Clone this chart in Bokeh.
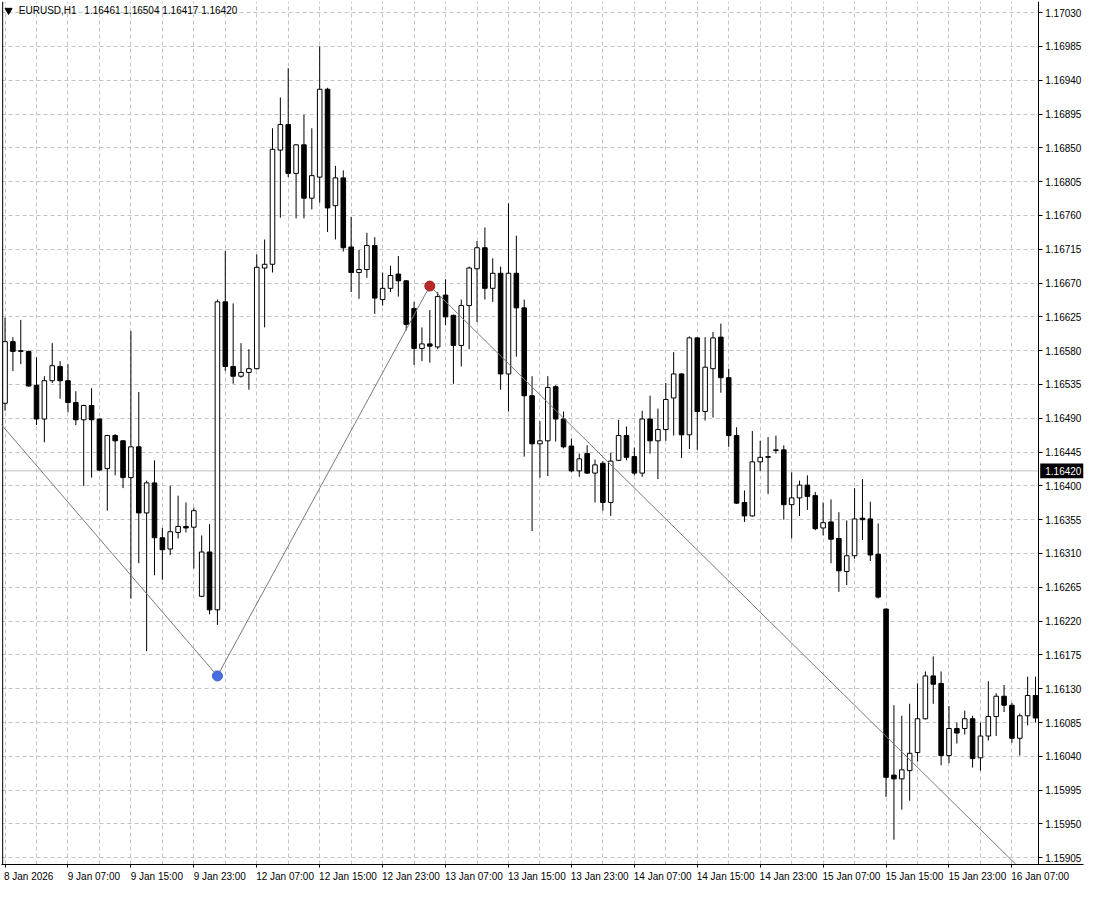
from bokeh.plotting import figure
from bokeh.models import (Range1d, FixedTicker, PrintfTickFormatter, Label, Span,
                          BoxAnnotation, ColumnDataSource)
from bokeh.embed import file_html
from bokeh.resources import INLINE

# ---------------- data (EURUSD H1, one entry per bar) ----------------
opens = [1.16510, 1.16592, 1.16579, 1.16579, 1.16534, 1.16489, 1.16540, 1.16559, 1.16540, 1.16511,
         1.16488, 1.16507, 1.16489, 1.16423, 1.16467, 1.16460, 1.16411, 1.16452, 1.16364, 1.16404,
         1.16331, 1.16316, 1.16338, 1.16346, 1.16345, 1.16253, 1.16312, 1.16235, 1.16645, 1.16559,
         1.16546, 1.16551, 1.16556, 1.16690, 1.16695, 1.16847, 1.16881, 1.16816, 1.16854, 1.16783,
         1.16811, 1.16928, 1.16773, 1.16810, 1.16718, 1.16684, 1.16688, 1.16720, 1.16648, 1.16663,
         1.16682, 1.16673, 1.16636, 1.16583, 1.16589, 1.16585, 1.16654, 1.16627, 1.16587, 1.16640,
         1.16689, 1.16717, 1.16663, 1.16683, 1.16549, 1.16683, 1.16637, 1.16520, 1.16456, 1.16460,
         1.16532, 1.16489, 1.16453, 1.16420, 1.16443, 1.16417, 1.16430, 1.16378, 1.16434, 1.16467,
         1.16439, 1.16417, 1.16489, 1.16460, 1.16475, 1.16517, 1.16549, 1.16468, 1.16597, 1.16499,
         1.16556, 1.16598, 1.16544, 1.16467, 1.16378, 1.16360, 1.16432, 1.16438, 1.16447, 1.16448,
         1.16375, 1.16384, 1.16401, 1.16387, 1.16344, 1.16352, 1.16330, 1.16286, 1.16307, 1.16357,
         1.16356, 1.16309, 1.16236, 1.16015, 1.16010, 1.16021, 1.16045, 1.16090, 1.16147, 1.16137,
         1.16041, 1.16077, 1.16077, 1.16090, 1.16038, 1.16067, 1.16093, 1.16120, 1.16108, 1.16064,
         1.16094, 1.16121]
highs = [1.16624, 1.16598, 1.16621, 1.16580, 1.16571, 1.16546, 1.16590, 1.16566, 1.16562, 1.16526,
         1.16508, 1.16530, 1.16490, 1.16468, 1.16469, 1.16461, 1.16606, 1.16525, 1.16407, 1.16434,
         1.16344, 1.16400, 1.16387, 1.16378, 1.16371, 1.16334, 1.16349, 1.16648, 1.16713, 1.16643,
         1.16590, 1.16582, 1.16708, 1.16728, 1.16876, 1.16917, 1.16956, 1.16855, 1.16894, 1.16876,
         1.16985, 1.16930, 1.16826, 1.16820, 1.16758, 1.16714, 1.16737, 1.16731, 1.16684, 1.16693,
         1.16706, 1.16674, 1.16645, 1.16611, 1.16634, 1.16658, 1.16675, 1.16628, 1.16648, 1.16692,
         1.16726, 1.16744, 1.16703, 1.16692, 1.16776, 1.16733, 1.16648, 1.16546, 1.16486, 1.16546,
         1.16534, 1.16499, 1.16463, 1.16443, 1.16454, 1.16435, 1.16433, 1.16444, 1.16488, 1.16479,
         1.16451, 1.16500, 1.16520, 1.16503, 1.16537, 1.16578, 1.16550, 1.16599, 1.16598, 1.16598,
         1.16605, 1.16616, 1.16556, 1.16478, 1.16394, 1.16473, 1.16460, 1.16465, 1.16467, 1.16454,
         1.16418, 1.16407, 1.16414, 1.16392, 1.16378, 1.16382, 1.16365, 1.16354, 1.16397, 1.16409,
         1.16379, 1.16350, 1.16237, 1.16108, 1.16094, 1.16110, 1.16137, 1.16153, 1.16173, 1.16153,
         1.16107, 1.16085, 1.16101, 1.16094, 1.16085, 1.16140, 1.16124, 1.16135, 1.16111, 1.16097,
         1.16146, 1.16146]
lows = [1.16500, 1.16553, 1.16562, 1.16532, 1.16481, 1.16458, 1.16537, 1.16516, 1.16498, 1.16481,
        1.16400, 1.16411, 1.16420, 1.16367, 1.16414, 1.16397, 1.16250, 1.16297, 1.16180, 1.16281,
        1.16275, 1.16308, 1.16330, 1.16338, 1.16290, 1.16252, 1.16229, 1.16215, 1.16553, 1.16536,
        1.16544, 1.16528, 1.16555, 1.16611, 1.16684, 1.16757, 1.16811, 1.16756, 1.16756, 1.16768,
        1.16777, 1.16738, 1.16728, 1.16712, 1.16658, 1.16649, 1.16677, 1.16629, 1.16640, 1.16658,
        1.16652, 1.16607, 1.16561, 1.16566, 1.16564, 1.16582, 1.16614, 1.16536, 1.16559, 1.16582,
        1.16618, 1.16648, 1.16645, 1.16528, 1.16499, 1.16572, 1.16439, 1.16340, 1.16411, 1.16413,
        1.16459, 1.16450, 1.16418, 1.16412, 1.16416, 1.16378, 1.16367, 1.16360, 1.16433, 1.16434,
        1.16414, 1.16412, 1.16443, 1.16409, 1.16460, 1.16467, 1.16437, 1.16449, 1.16448, 1.16487,
        1.16491, 1.16524, 1.16452, 1.16376, 1.16352, 1.16359, 1.16420, 1.16389, 1.16443, 1.16355,
        1.16330, 1.16360, 1.16368, 1.16341, 1.16334, 1.16297, 1.16259, 1.16268, 1.16303, 1.16328,
        1.16300, 1.16250, 1.15986, 1.15929, 1.15969, 1.15981, 1.16033, 1.16089, 1.16110, 1.16028,
        1.16031, 1.16057, 1.16069, 1.16025, 1.16021, 1.16061, 1.16067, 1.16099, 1.16058, 1.16041,
        1.16081, 1.16085]
closes = [1.16592, 1.16579, 1.16580, 1.16533, 1.16489, 1.16540, 1.16560, 1.16540, 1.16511, 1.16488,
          1.16507, 1.16488, 1.16421, 1.16467, 1.16460, 1.16411, 1.16452, 1.16364, 1.16404, 1.16331,
          1.16315, 1.16339, 1.16346, 1.16344, 1.16367, 1.16312, 1.16235, 1.16645, 1.16559, 1.16546,
          1.16551, 1.16556, 1.16691, 1.16695, 1.16848, 1.16881, 1.16816, 1.16854, 1.16783, 1.16813,
          1.16928, 1.16770, 1.16810, 1.16717, 1.16684, 1.16688, 1.16720, 1.16650, 1.16663, 1.16680,
          1.16673, 1.16615, 1.16583, 1.16589, 1.16586, 1.16652, 1.16625, 1.16587, 1.16640, 1.16690,
          1.16717, 1.16663, 1.16683, 1.16549, 1.16683, 1.16637, 1.16520, 1.16456, 1.16460, 1.16531,
          1.16489, 1.16452, 1.16420, 1.16436, 1.16417, 1.16428, 1.16378, 1.16433, 1.16467, 1.16438,
          1.16417, 1.16489, 1.16460, 1.16475, 1.16515, 1.16549, 1.16468, 1.16597, 1.16499, 1.16558,
          1.16597, 1.16544, 1.16467, 1.16377, 1.16360, 1.16432, 1.16438, 1.16439, 1.16448, 1.16375,
          1.16384, 1.16401, 1.16386, 1.16343, 1.16351, 1.16329, 1.16287, 1.16307, 1.16356, 1.16355,
          1.16308, 1.16252, 1.16012, 1.16010, 1.16022, 1.16044, 1.16090, 1.16147, 1.16136, 1.16041,
          1.16077, 1.16071, 1.16090, 1.16037, 1.16067, 1.16093, 1.16120, 1.16108, 1.16064, 1.16094,
          1.16121, 1.16091]

time_labels = ["8 Jan 2026", "9 Jan 07:00", "9 Jan 15:00", "9 Jan 23:00", "12 Jan 07:00",
               "12 Jan 15:00", "12 Jan 23:00", "13 Jan 07:00", "13 Jan 15:00", "13 Jan 23:00",
               "14 Jan 07:00", "14 Jan 15:00", "14 Jan 23:00", "15 Jan 07:00", "15 Jan 15:00",
               "15 Jan 23:00", "16 Jan 07:00"]
label_bar_step = 8

price_ticks = [round(1.15905 + k * 0.00045, 5) for k in range(26)]

# zigzag indicator points (bar index, price)
zz_bars = [-1, 27, 54, 132]
zz_prices = [1.16488, 1.16147, 1.16666, 1.15860]
low_point = (27, 1.16147)
high_point = (54, 1.16666)

symbol_title = "EURUSD,H1\u2002 1.16461 1.16504 1.16417 1.16420"
current_price = 1.16420

# ---------------- figure ----------------
FONT = "Liberation Sans"
n = len(opens)
idx = list(range(n))
X_MIN = -0.45          # left edge of chart window
X_AX = 131.35          # where the price scale starts
X_END = 137.1          # right edge of the window (includes price-scale strip)
Y_MIN, Y_MAX = 1.15896, 1.170448

p = figure(width=1084, height=884, output_backend="svg", toolbar_location=None,
           x_range=Range1d(X_MIN, X_END), y_range=Range1d(Y_MIN, Y_MAX),
           y_axis_location="right", min_border_left=1, min_border_top=1,
           min_border_right=1, min_border_bottom=0)
p.background_fill_color = "white"
p.border_fill_color = "white"
p.outline_line_color = None

# grid
p.xgrid.ticker = FixedTicker(ticks=list(range(0, n, 4)))
for g in (p.xgrid, p.ygrid):
    g.grid_line_color = "#c4c4c4"
    g.grid_line_dash = "4 3"
    g.grid_line_width = 1

# current price line (under the candles)
p.add_layout(Span(location=current_price, dimension="width", line_color="#c0c0c0",
                  line_width=1, level="underlay"))
# blank price-scale strip
p.add_layout(BoxAnnotation(left=X_AX, fill_color="white", fill_alpha=1.0,
                           line_color=None, level="underlay"))
# window left border
p.add_layout(Span(location=X_MIN + 0.15, dimension="height", line_color="black",
                  line_width=1, level="underlay"))

# candles
up = [c >= o for o, c in zip(opens, closes)]
src = ColumnDataSource(dict(
    x=idx, high=highs, low=lows,
    top=[max(o, c) for o, c in zip(opens, closes)],
    bottom=[min(o, c) for o, c in zip(opens, closes)],
    fill=["white" if u else "black" for u in up],
))
p.segment(x0="x", y0="low", x1="x", y1="high", source=src, line_color="black", line_width=1)
p.vbar(x="x", width=0.58, top="top", bottom="bottom", source=src,
       fill_color="fill", line_color="black", line_width=1)

# zigzag
p.line(zz_bars, zz_prices, line_color="#7a7a7a", line_width=1)
p.scatter([low_point[0]], [low_point[1]], size=10, fill_color="#4a6ee0", line_color="#3a5cc8")
p.scatter([high_point[0]], [high_point[1]], size=10, fill_color="#b82a2a", line_color="#a02020")

# mask glyphs that would spill into the price-scale strip
p.add_layout(BoxAnnotation(left=X_AX, fill_color="white", fill_alpha=1.0,
                           line_color=None, level="glyph"))

# x axis (time)
label_pos = []
overrides = {}
for k, t in enumerate(time_labels):
    pos = k * label_bar_step + len(t) * 0.30
    label_pos.append(pos)
    overrides[pos] = t
xa = p.xaxis[0]
xa.ticker = FixedTicker(ticks=label_pos, minor_ticks=list(range(0, n, label_bar_step)))
xa.major_label_overrides = overrides
xa.major_tick_line_color = None
xa.major_tick_in = 0
xa.major_tick_out = 0
xa.minor_tick_in = 0
xa.minor_tick_out = 3
xa.minor_tick_line_color = "black"
xa.major_label_standoff = 3

# y axis (price scale), drawn at the scale boundary inside the window
ya = p.yaxis[0]
ya.fixed_location = X_AX
ya.ticker = FixedTicker(ticks=price_ticks)
ya.formatter = PrintfTickFormatter(format="%.5f")
ya.major_tick_in = 0
ya.major_tick_out = 4
ya.minor_tick_line_color = None
ya.major_label_standoff = 3

for ax in (xa, ya):
    ax.axis_line_color = "black"
    ax.major_label_text_font = FONT
    ax.major_label_text_font_size = "10px"
    ax.major_label_text_color = "black"

# current price tag on the scale
tag_half = 0.0000985
p.add_layout(BoxAnnotation(left=X_AX + 0.25, bottom=current_price - tag_half,
                           top=current_price + tag_half, fill_color="black", fill_alpha=1.0,
                           line_color=None, level="annotation"))
p.add_layout(Label(x=X_AX, y=current_price, text=f"{current_price:.5f}", x_offset=7,
                   text_font=FONT, text_font_size="10px", text_color="white",
                   text_baseline="middle", level="annotation"))

# title
p.scatter([0.45], [1.17033], marker="inverted_triangle", size=7, color="black")
p.add_layout(Label(x=1.75, y=1.17033, text=symbol_title, text_font=FONT,
                   text_font_size="10px", text_color="black", text_baseline="middle"))

open("out.html", "w").write(file_html(p, INLINE))
